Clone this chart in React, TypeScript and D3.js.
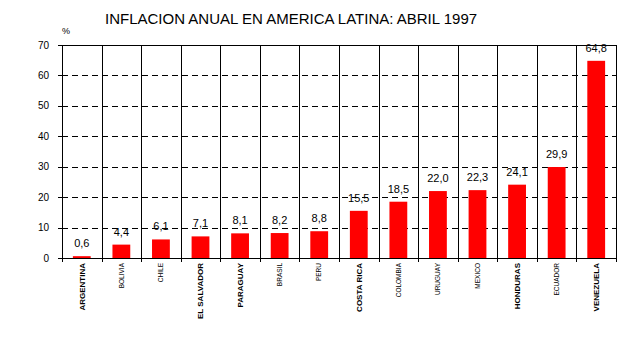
import React, { useEffect, useRef } from 'react';
import * as d3 from 'd3';

const countries = [
  'ARGENTINA', 'BOLIVIA', 'CHILE', 'EL SALVADOR', 'PARAGUAY', 'BRASIL', 'PERU',
  'COSTA RICA', 'COLOMBIA', 'URUGUAY', 'MEXICO', 'HONDURAS', 'ECUADOR', 'VENEZUELA',
];
const inflation = [0.6, 4.4, 6.1, 7.1, 8.1, 8.2, 8.8, 15.5, 18.5, 22.0, 22.3, 24.1, 29.9, 64.8];
const yTicks = [0, 10, 20, 30, 40, 50, 60, 70];
const boldLabels = ['ARGENTINA', 'EL SALVADOR', 'PARAGUAY', 'COSTA RICA', 'HONDURAS', 'VENEZUELA'];

const FONT = "Arial, 'Liberation Sans', sans-serif";

const App = () => {
  const svgRef = useRef<SVGSVGElement | null>(null);
  const width = 621;
  const height = 351;

  useEffect(() => {
    const svg = d3.select(svgRef.current);
    svg.selectAll('*').remove();

    const margin = { top: 45, right: 5, bottom: 93, left: 62 };
    const x0 = margin.left;
    const x1 = width - margin.right;
    const y0 = height - margin.bottom;

    const x = d3.scaleBand<string>().domain(countries).range([x0, x1]).padding(0);
    const y = d3.scaleLinear().domain([0, 70]).range([y0, margin.top]);
    const barW = x.bandwidth() * 0.45;

    // title
    svg.append('text')
      .attr('x', 105)
      .attr('y', 24)
      .attr('font-family', FONT)
      .attr('font-size', 15)
      .attr('fill', '#000')
      .text('INFLACION ANUAL EN AMERICA LATINA: ABRIL 1997');

    svg.append('text')
      .attr('x', 62)
      .attr('y', 34)
      .attr('font-family', FONT)
      .attr('font-size', 9)
      .text('%');

    // horizontal dashed gridlines
    svg.append('g')
      .selectAll('line')
      .data(yTicks.filter(d => d > 0 && d < 70))
      .enter()
      .append('line')
      .attr('x1', x0)
      .attr('x2', x1)
      .attr('y1', d => Math.round(y(d)) + 0.5)
      .attr('y2', d => Math.round(y(d)) + 0.5)
      .attr('stroke', '#000')
      .attr('stroke-dasharray', '6,4');

    // top line
    svg.append('line')
      .attr('x1', x0 - 4).attr('x2', x1)
      .attr('y1', Math.round(y(70)) + 0.5).attr('y2', Math.round(y(70)) + 0.5)
      .attr('stroke', '#000');

    // vertical band lines
    const bounds = countries.map(c => x(c) as number).concat([x1]);
    svg.append('g')
      .selectAll('line')
      .data(bounds)
      .enter()
      .append('line')
      .attr('x1', d => Math.round(d) + 0.5)
      .attr('x2', d => Math.round(d) + 0.5)
      .attr('y1', y(70))
      .attr('y2', y0 + 4)
      .attr('stroke', '#000');

    // y ticks
    const yAxis = svg.append('g');
    yAxis.selectAll('line')
      .data(yTicks)
      .enter()
      .append('line')
      .attr('x1', x0 - 4)
      .attr('x2', x0)
      .attr('y1', d => Math.round(y(d)) + 0.5)
      .attr('y2', d => Math.round(y(d)) + 0.5)
      .attr('stroke', '#000');
    yAxis.selectAll('text')
      .data(yTicks)
      .enter()
      .append('text')
      .attr('x', 49)
      .attr('y', d => y(d))
      .attr('dy', '0.35em')
      .attr('text-anchor', 'end')
      .attr('font-family', FONT)
      .attr('font-size', 10)
      .text(d => d);

    // bars
    svg.append('g')
      .selectAll('rect')
      .data(inflation)
      .enter()
      .append('rect')
      .attr('x', (d, i) => (x(countries[i]) as number) + (x.bandwidth() - barW) / 2)
      .attr('y', d => y(d))
      .attr('width', barW)
      .attr('height', d => y0 - y(d))
      .attr('fill', '#ff0000');

    // x axis line
    svg.append('line')
      .attr('x1', x0).attr('x2', x1)
      .attr('y1', y0 + 0.5).attr('y2', y0 + 0.5)
      .attr('stroke', '#000');

    // value labels
    svg.append('g')
      .selectAll('text')
      .data(inflation)
      .enter()
      .append('text')
      .attr('x', (d, i) => (x(countries[i]) as number) + x.bandwidth() / 2)
      .attr('y', d => y(d) - 9)
      .attr('text-anchor', 'middle')
      .attr('font-family', FONT)
      .attr('font-size', 11)
      .text(d => d.toFixed(1).replace('.', ','));

    // category labels
    svg.append('g')
      .selectAll('text')
      .data(countries)
      .enter()
      .append('text')
      .attr('transform', d => `translate(${(x(d) as number) + x.bandwidth() / 2},${y0 + 5}) rotate(-90)`)
      .attr('dy', '0.35em')
      .attr('text-anchor', 'end')
      .attr('font-family', FONT)
      .attr('font-size', d => (boldLabels.includes(d) ? 8 : 6.5))
      .attr('font-weight', d => (boldLabels.includes(d) ? 'bold' : 'normal'))
      .text(d => d);
  }, []);

  return (
    <svg
      ref={svgRef}
      width={width}
      height={height}
      style={{ position: 'absolute', left: 0, top: 0, background: '#fff' }}
    />
  );
};

export default App;
